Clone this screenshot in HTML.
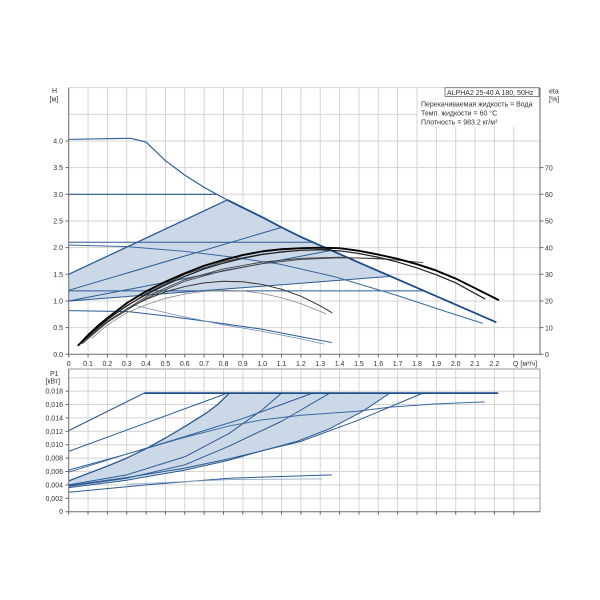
<!DOCTYPE html>
<html>
<head>
<meta charset="utf-8">
<style>
html,body{margin:0;padding:0;background:#fff;}
svg{display:block;font-family:"Liberation Sans","DejaVu Sans",sans-serif;}
.d path{vector-effect:non-scaling-stroke;}
text{fill:#333;font-size:7px;}
</style>
</head>
<body>
<svg width="600" height="600" viewBox="0 0 600 600" xmlns="http://www.w3.org/2000/svg">
<rect width="600" height="600" fill="#fff"/>

<!-- ================= TOP CHART ================= -->
<g class="d" transform="translate(68.7,354.3) scale(193.5,-53.33)">
  <path fill="none" stroke="#d4d4d4" stroke-width="1" d="M0.1 0V5M0.2 0V5M0.3 0V5M0.4 0V5M0.5 0V5M0.6 0V5M0.7 0V5M0.8 0V5M0.9 0V5M1 0V5M1.1 0V5M1.2 0V5M1.3 0V5M1.4 0V5M1.5 0V5M1.6 0V5M1.7 0V5M1.8 0V5M1.9 0V5M2 0V5M2.1 0V5M2.2 0V5M2.3 0V5"/>
  <path fill="none" stroke="#d4d4d4" stroke-width="1" d="M0 0.5H2.4357M0 1H2.4357M0 1.5H2.4357M0 2H2.4357M0 2.5H2.4357M0 3H2.4357M0 3.5H2.4357M0 4H2.4357M0 4.5H2.4357M0 5H2.4357"/>
</g>
<rect x="418" y="88.3" width="121.5" height="38.5" fill="#fff"/>

<g class="d" transform="translate(68.7,354.3) scale(193.5,-53.33)">
  <path fill="#cbd8e7" stroke="none" d="M0 1L0 1.5L0.82 2.894L0.9 2.75L1 2.57L1.1 2.38L1.2 2.2L1.5 1.72L1.66 1.465Z"/>

  <g fill="none" stroke="#2b5b93" stroke-width="1">
    <path d="M0 3L0.765 3" stroke-width="1.2"/>
    <path d="M0 1.5L0.82 2.894" stroke-width="1.3"/>
    <path d="M0 1.2L1.1 2.38"/>
    <path d="M0 1L1.35 1.945"/>
    <path d="M0 1L1.66 1.46"/>
    <path d="M0 2.1L1.26 2.1"/>
    <path d="M0 1.19L1.83 1.19"/>
    <path d="M0 2.05L0.3 2.02L0.6 1.93L0.83 1.83L1.09 1.69L1.38 1.45L1.7 1.1L1.95 0.8L2.14 0.58" stroke="#3d6aa0"/>
    <path d="M0 0.82L0.31 0.8L0.5 0.72L0.79 0.58L1 0.47L1.2 0.33L1.36 0.22"/>
    <path d="M0.33 0.93L0.55 0.74L0.79 0.56L1 0.43L1.2 0.29L1.32 0.19" stroke="#6f8fb8" stroke-width="0.8"/>
    <!-- max curve thin part -->
    <path d="M0 4.03L0.32 4.05L0.4 3.98L0.5 3.63L0.6 3.36L0.7 3.13L0.8 2.93L0.82 2.894" stroke="#2b5b93" stroke-width="1.1"/>
  </g>
  <!-- max curve thick part -->
  <path fill="none" stroke="#1d4e8a" stroke-width="1.8" stroke-linejoin="round" d="M0.82 2.894L0.9 2.75L1 2.57L1.1 2.38L1.2 2.2L1.5 1.72L1.83 1.2L2.21 0.6"/>

  <g fill="none" stroke-linejoin="round" stroke-linecap="round">
    <path stroke="#8a8a8a" stroke-width="0.8" d="M0.12 0.3L0.2 0.55L0.3 0.78L0.4 0.93L0.5 1.05L0.6 1.13L0.7 1.18L0.8 1.2L0.9 1.19L1 1.14L1.1 1.06L1.2 0.95L1.33 0.76"/>
    <path stroke="#333" stroke-width="1" d="M0.1 0.3L0.2 0.6L0.3 0.85L0.4 1.03L0.5 1.17L0.6 1.27L0.7 1.34L0.8 1.37L0.9 1.36L1 1.31L1.1 1.22L1.2 1.09L1.3 0.91L1.36 0.78"/>
    <path stroke="#444" stroke-width="0.9" d="M0.07 0.22L0.2 0.62L0.4 1.08L0.6 1.4L0.8 1.6L1 1.73L1.2 1.8L1.4 1.82L1.66 1.78"/>
    <path stroke="#444" stroke-width="0.9" d="M0.07 0.2L0.2 0.6L0.4 1.05L0.6 1.37L0.8 1.57L1 1.7L1.2 1.78L1.4 1.81L1.6 1.8L1.83 1.72"/>
    <path stroke="#333" stroke-width="0.9" d="M0.06 0.2L0.2 0.66L0.4 1.14L0.6 1.5L0.8 1.74L1 1.88L1.2 1.95L1.35 1.97"/>
    <path stroke="#222" stroke-width="1.2" d="M0.06 0.2L0.1 0.34L0.2 0.65L0.3 0.91L0.4 1.12L0.5 1.3L0.6 1.46L0.7 1.6L0.8 1.71L0.9 1.8L1 1.87L1.1 1.92L1.2 1.95L1.3 1.96L1.4 1.94L1.5 1.89L1.6 1.82L1.7 1.73L1.8 1.62L1.9 1.49L2 1.34L2.15 1.04"/>
    <path stroke="#000" stroke-width="1.9" d="M0.05 0.17L0.1 0.36L0.15 0.53L0.2 0.68L0.3 0.96L0.4 1.18L0.5 1.36L0.6 1.52L0.7 1.66L0.8 1.77L0.9 1.86L1 1.93L1.1 1.97L1.2 1.99L1.3 2L1.4 1.99L1.5 1.94L1.6 1.87L1.7 1.79L1.8 1.69L1.9 1.57L2 1.42L2.1 1.24L2.22 1.02"/>
  </g>
</g>

<g fill="none" stroke="#6a6a6a" stroke-width="1">
  <path d="M68.7 87.7V354.3H540V87.7"/>
  <path d="M65.5 354.3H68.7M65.5 327.6H68.7M65.5 301H68.7M65.5 274.3H68.7M65.5 247.6H68.7M65.5 221H68.7M65.5 194.3H68.7M65.5 167.6H68.7M65.5 141H68.7"/>
  <path d="M540 354.3H543.5M540 327.6H543.5M540 301H543.5M540 274.3H543.5M540 247.6H543.5M540 221H543.5M540 194.3H543.5M540 167.6H543.5"/>
  <path d="M68.7 354.3V357.5M88.05 354.3V357.5M107.4 354.3V357.5M126.75 354.3V357.5M146.1 354.3V357.5M165.45 354.3V357.5M184.8 354.3V357.5M204.15 354.3V357.5M223.5 354.3V357.5M242.85 354.3V357.5M262.2 354.3V357.5M281.55 354.3V357.5M300.9 354.3V357.5M320.25 354.3V357.5M339.6 354.3V357.5M358.95 354.3V357.5M378.3 354.3V357.5M397.65 354.3V357.5M417 354.3V357.5M436.35 354.3V357.5M455.7 354.3V357.5M475.05 354.3V357.5M494.4 354.3V357.5M513.75 354.3V357.5"/>
</g>

<rect x="445" y="87.8" width="94" height="8.8" fill="#fff" stroke="#555" stroke-width="0.7"/>
<text x="447" y="95">ALPHA2 25-40 A 180, 50Hz</text>
<text x="421" y="106.5">Перекачиваемая жидкость = Вода</text>
<text x="421" y="115.5">Темп. жидкости = 60 °C</text>
<text x="421" y="124.5">Плотность = 983.2 кг/м³</text>

<text x="52" y="93">H</text>
<text x="49.5" y="101.5">[м]</text>
<text x="549" y="93.5">eta</text>
<text x="549" y="101.5">[%]</text>
<g text-anchor="end">
  <text x="63" y="356.8">0.0</text>
  <text x="63" y="330.1">0.5</text>
  <text x="63" y="303.5">1.0</text>
  <text x="63" y="276.8">1.5</text>
  <text x="63" y="250.1">2.0</text>
  <text x="63" y="223.5">2.5</text>
  <text x="63" y="196.8">3.0</text>
  <text x="63" y="170.1">3.5</text>
  <text x="63" y="143.5">4.0</text>
</g>
<g>
  <text x="545" y="357">0</text>
  <text x="545" y="330.3">10</text>
  <text x="545" y="303.7">20</text>
  <text x="545" y="277">30</text>
  <text x="545" y="250.3">40</text>
  <text x="545" y="223.7">50</text>
  <text x="545" y="197">60</text>
  <text x="545" y="170.3">70</text>
</g>
<g text-anchor="middle">
  <text x="68.7" y="366">0</text>
  <text x="88.05" y="366">0.1</text>
  <text x="107.4" y="366">0.2</text>
  <text x="126.75" y="366">0.3</text>
  <text x="146.1" y="366">0.4</text>
  <text x="165.45" y="366">0.5</text>
  <text x="184.8" y="366">0.6</text>
  <text x="204.15" y="366">0.7</text>
  <text x="223.5" y="366">0.8</text>
  <text x="242.85" y="366">0.9</text>
  <text x="262.2" y="366">1.0</text>
  <text x="281.55" y="366">1.1</text>
  <text x="300.9" y="366">1.2</text>
  <text x="320.25" y="366">1.3</text>
  <text x="339.6" y="366">1.4</text>
  <text x="358.95" y="366">1.5</text>
  <text x="378.3" y="366">1.6</text>
  <text x="397.65" y="366">1.7</text>
  <text x="417" y="366">1.8</text>
  <text x="436.35" y="366">1.9</text>
  <text x="455.7" y="366">2.0</text>
  <text x="475.05" y="366">2.1</text>
  <text x="494.4" y="366">2.2</text>
</g>
<text x="513" y="366">Q [м³/ч]</text>

<!-- ================= BOTTOM CHART ================= -->
<g class="d" transform="translate(68.7,511.7) scale(193.5,-6700)">
  <path fill="none" stroke="#d4d4d4" stroke-width="1" d="M0.1 0V0.0212M0.2 0V0.0212M0.3 0V0.0212M0.4 0V0.0212M0.5 0V0.0212M0.6 0V0.0212M0.7 0V0.0212M0.8 0V0.0212M0.9 0V0.0212M1 0V0.0212M1.1 0V0.0212M1.2 0V0.0212M1.3 0V0.0212M1.4 0V0.0212M1.5 0V0.0212M1.6 0V0.0212M1.7 0V0.0212M1.8 0V0.0212M1.9 0V0.0212M2 0V0.0212M2.1 0V0.0212M2.2 0V0.0212M2.3 0V0.0212"/>
  <path fill="none" stroke="#d4d4d4" stroke-width="1" d="M0 0.002H2.4357M0 0.004H2.4357M0 0.006H2.4357M0 0.008H2.4357M0 0.01H2.4357M0 0.012H2.4357M0 0.014H2.4357M0 0.016H2.4357M0 0.018H2.4357M0 0.02H2.4357"/>

  <path fill="#cbd8e7" stroke="none" d="M0 0.0046L0.1 0.0057L0.2 0.0068L0.3 0.008L0.4 0.0094L0.5 0.011L0.6 0.0127L0.71 0.0147L0.77 0.016L0.83 0.0177L1.66 0.0177L1.52 0.015L1.35 0.0124L1.18 0.0105L1 0.0091L0.83 0.0077L0.6 0.0062L0.3 0.0047L0 0.0036Z"/>

  <g fill="none" stroke="#2b5b93" stroke-width="1" stroke-linejoin="round">
    <path d="M0 0.009L0.82 0.0177"/>
    <path d="M0 0.0062L0.3 0.0086L0.6 0.0112L0.9 0.0139L1.1 0.016L1.26 0.0177"/>
    <path d="M0 0.0059L0.3 0.0086L0.6 0.0111L0.83 0.0128L1 0.0137L1.2 0.0144L1.49 0.015L1.66 0.0156L1.9 0.0161L2.15 0.0164" stroke="#3d6aa0"/>
    <path d="M0 0.004L0.3 0.0055L0.6 0.0082L0.83 0.0117L1 0.0152L1.1 0.0177"/>
    <path d="M0 0.0038L0.3 0.005L0.6 0.007L0.83 0.0098L1.1 0.0135L1.35 0.0177"/>
    <path d="M0 0.0036L0.3 0.0047L0.6 0.0062L0.83 0.0077L1 0.0091L1.18 0.0105L1.35 0.0124L1.52 0.015L1.66 0.0177"/>
    <path d="M0 0.0039L0.3 0.0051L0.6 0.0065L0.83 0.0079L1.2 0.0105L1.5 0.0137L1.83 0.0177"/>
    <path d="M0 0.0029L0.4 0.004L0.83 0.005L1.36 0.0055"/>
    <path d="M0.3 0.0041L0.83 0.0048L1.31 0.0049" stroke="#8aa2c2" stroke-width="0.8"/>
    <path d="M0 0.0046L0.1 0.0057L0.2 0.0068L0.3 0.008L0.4 0.0094L0.5 0.011L0.6 0.0127L0.71 0.0147L0.77 0.016L0.83 0.0177" stroke-width="1.3"/>
    <path d="M0 0.0121L0.39 0.0177" stroke-width="1.1"/>
  </g>
  <path fill="none" stroke="#1d4e8a" stroke-width="1.7" d="M0.39 0.0177L2.22 0.0177"/>
</g>

<g fill="none" stroke-width="1">
  <path d="M68.7 369H540V511.7" stroke="#9a9a9a"/>
  <path d="M68.7 369V511.7H540" stroke="#6a6a6a"/>
  <path stroke="#6a6a6a" d="M65.5 511.7H68.7M65.5 498.3H68.7M65.5 484.9H68.7M65.5 471.5H68.7M65.5 458.1H68.7M65.5 444.7H68.7M65.5 431.3H68.7M65.5 417.9H68.7M65.5 404.5H68.7M65.5 391.1H68.7"/>
  <path stroke="#6a6a6a" d="M68.7 511.7V514.8M88.05 511.7V514.8M107.4 511.7V514.8M126.75 511.7V514.8M146.1 511.7V514.8M165.45 511.7V514.8M184.8 511.7V514.8M204.15 511.7V514.8M223.5 511.7V514.8M242.85 511.7V514.8M262.2 511.7V514.8M281.55 511.7V514.8M300.9 511.7V514.8M320.25 511.7V514.8M339.6 511.7V514.8M358.95 511.7V514.8M378.3 511.7V514.8M397.65 511.7V514.8M417 511.7V514.8M436.35 511.7V514.8M455.7 511.7V514.8M475.05 511.7V514.8M494.4 511.7V514.8M513.75 511.7V514.8"/>
</g>

<text x="50" y="376">P1</text>
<text x="45.5" y="383.5">[кВт]</text>
<g text-anchor="end">
  <text x="63" y="514.2">0</text>
  <text x="63" y="500.8">0,002</text>
  <text x="63" y="487.4">0,004</text>
  <text x="63" y="474">0,006</text>
  <text x="63" y="460.6">0,008</text>
  <text x="63" y="447.2">0,010</text>
  <text x="63" y="433.8">0,012</text>
  <text x="63" y="420.4">0,014</text>
  <text x="63" y="407">0,016</text>
  <text x="63" y="393.6">0,018</text>
</g>
</svg>
</body>
</html>
